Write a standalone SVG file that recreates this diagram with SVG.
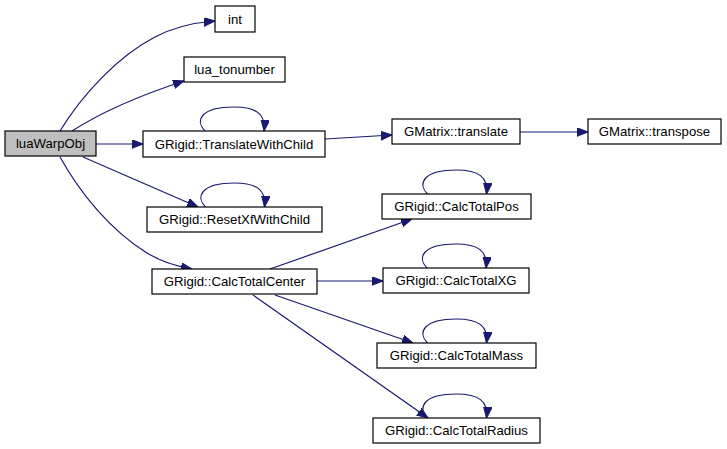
<svg xmlns="http://www.w3.org/2000/svg" width="727" height="449" viewBox="0 0 727 449">
<defs>
<marker id="ah" markerUnits="userSpaceOnUse" markerWidth="12" markerHeight="10" refX="11" refY="4.3" orient="auto">
<path d="M0,0 L11,4.3 L0,8.6 z" fill="#191970" stroke="#191970" stroke-width="1"/>
</marker>
<style>
.n rect{fill:#fff;stroke:#000;stroke-width:1.2}
.n text{font-family:"Liberation Sans",Arial,sans-serif;font-size:13.2px;text-anchor:middle;fill:#000}
#edges path{fill:none;stroke:#191970;stroke-width:1.2;marker-end:url(#ah)}
</style>
</defs>
<rect width="727" height="449" fill="#fff"/>
<g id="edges">
<path d="M60,131 C82,95 118,56 155,37 C172,28 190,23 215,21"/>
<path d="M72,131 C100,113 135,97 184,81"/>
<path d="M96,144 L143,144"/>
<path d="M83,157 L198,207"/>
<path d="M60,157 C80,193 110,230 147,253 C160,261 175,266 192,269"/>
<path d="M325,139 L392,135"/>
<path d="M520,132 L588,132"/>
<path d="M270,269 L412,219"/>
<path d="M317,281 L383,281"/>
<path d="M275,295 L413,343"/>
<path d="M253,295 L428,418"/>
<path d="M205,131 C195,121 200,107 234,107 C256,107 266,114 264,131"/>
<path d="M205.5,207 C195.5,197 200.5,183 234.5,183 C256.5,183 266.5,190 264.5,207"/>
<path d="M427.5,194 C417.5,184 422.5,170 456.5,170 C478.5,170 488.5,177 486.5,194"/>
<path d="M427,268 C417,258 422,244 456,244 C478,244 488,251 486,268"/>
<path d="M427.5,343 C417.5,333 422.5,319 456.5,319 C478.5,319 488.5,326 486.5,343"/>
<path d="M427.5,418 C417.5,408 422.5,394 456.5,394 C478.5,394 488.5,401 486.5,418"/>
</g>
<g id="luaWarpObj" class="n"><rect x="5" y="131" width="91" height="25" style="fill:#bfbfbf"/><text x="50.5" y="148">luaWarpObj</text></g>
<g id="int" class="n"><rect x="215" y="6" width="40" height="26"/><text x="235" y="23.5">int</text></g>
<g id="lua_tonumber" class="n"><rect x="184" y="57" width="101" height="25"/><text x="234.5" y="74">lua_tonumber</text></g>
<g id="TranslateWithChild" class="n"><rect x="143" y="131" width="182" height="26"/><text x="234" y="148.5">GRigid::TranslateWithChild</text></g>
<g id="GMatrix_translate" class="n"><rect x="392" y="119" width="128" height="25"/><text x="456" y="136">GMatrix::translate</text></g>
<g id="GMatrix_transpose" class="n"><rect x="588" y="119" width="133" height="25"/><text x="654.5" y="136">GMatrix::transpose</text></g>
<g id="ResetXfWithChild" class="n"><rect x="147" y="207" width="175" height="25"/><text x="234.5" y="224">GRigid::ResetXfWithChild</text></g>
<g id="CalcTotalCenter" class="n"><rect x="152" y="269" width="165" height="25"/><text x="234.5" y="286">GRigid::CalcTotalCenter</text></g>
<g id="CalcTotalPos" class="n"><rect x="382" y="194" width="149" height="25"/><text x="456.5" y="211">GRigid::CalcTotalPos</text></g>
<g id="CalcTotalXG" class="n"><rect x="383" y="268" width="146" height="25"/><text x="456" y="285">GRigid::CalcTotalXG</text></g>
<g id="CalcTotalMass" class="n"><rect x="377" y="343" width="159" height="25"/><text x="456.5" y="360">GRigid::CalcTotalMass</text></g>
<g id="CalcTotalRadius" class="n"><rect x="373" y="418" width="167" height="25"/><text x="456.5" y="435">GRigid::CalcTotalRadius</text></g>
</svg>
